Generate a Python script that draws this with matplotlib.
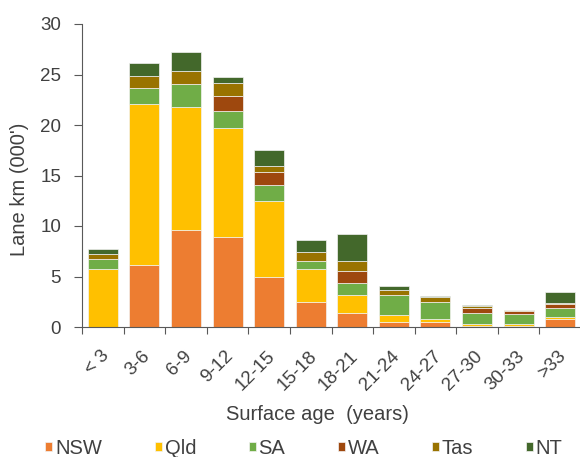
import numpy as np
import matplotlib
matplotlib.use('Agg')
import matplotlib.pyplot as plt

# Alter der Deckschicht (Jahre) und Fahrstreifen-km (in Tausend) je Bundesstaat
categories = ['< 3', '3-6', '6-9', '9-12', '12-15', '15-18', '18-21',
              '21-24', '24-27', '27-30', '30-33', '>33']
nsw = [0.0, 6.1, 9.65, 8.9, 5.0, 2.5, 1.35, 0.52, 0.5, 0.13, 0.13, 0.8]
qld = [5.7, 16.0, 12.15, 10.8, 7.45, 3.2, 1.8, 0.62, 0.28, 0.17, 0.17, 0.15]
sa = [1.0, 1.6, 2.3, 1.65, 1.6, 0.85, 1.25, 2.0, 1.74, 1.06, 0.96, 0.95]
wa = [0.0, 0.0, 0.0, 1.5, 1.3, 0.0, 1.15, 0.0, 0.0, 0.56, 0.3, 0.33]
tas = [0.5, 1.15, 1.2, 1.3, 0.6, 0.9, 1.0, 0.55, 0.43, 0.13, 0.1, 0.1]
nt = [0.5, 1.25, 1.95, 0.6, 1.55, 1.15, 2.7, 0.38, 0.1, 0.1, 0.03, 1.1]

series = [('NSW', nsw, '#ED7D31'),
          ('Qld', qld, '#FFC000'),
          ('SA', sa, '#70AD47'),
          ('WA', wa, '#9E480E'),
          ('Tas', tas, '#997300'),
          ('NT', nt, '#43682B')]

plt.rcParams['font.family'] = 'Liberation Sans'
plt.rcParams['font.size'] = 14.5
text_col = '#404040'
axis_col = '#595959'

fig = plt.figure(figsize=(5.8, 4.57), dpi=100)
ax = fig.add_axes([82 / 580, 1 - 327 / 457, 499 / 580, 303 / 457])

x = np.arange(len(categories))
bottom = np.zeros(len(categories))
for name, vals, col in series:
    ax.bar(x, vals, width=0.72, bottom=bottom, color=col, label=name,
           edgecolor='#f2f2f2', linewidth=0.5)
    bottom += np.array(vals)

ax.set_xlim(-0.5, len(categories) - 0.5)
ax.set_ylim(0, 30)
ax.set_yticks(np.arange(0, 31, 5))

# Striche zwischen den Kategorien, Beschriftung in der Mitte
ax.set_xticks(np.arange(len(categories) + 1) - 0.5)
ax.set_xticklabels([])
ax.set_xticks(x + 0.08, minor=True)
ax.set_xticklabels(categories, minor=True, rotation=45, ha='right',
                   va='center', rotation_mode='anchor', color=text_col,
                   fontsize=13.5)
ax.tick_params(axis='x', which='major', length=5, color=axis_col)
ax.tick_params(axis='x', which='minor', length=0, pad=19)
ax.tick_params(axis='y', length=6, color=axis_col, labelcolor=text_col,
               labelsize=13.5, pad=9)

for s in ['top', 'right']:
    ax.spines[s].set_visible(False)
for s in ['left', 'bottom']:
    ax.spines[s].set_color(axis_col)

ax.set_ylabel("Lane km (000')", color=text_col)
ax.yaxis.set_label_coords((29 - 82) / 499, 0.455)
fig.text(317 / 580, 1 - 415 / 457, 'Surface age  (years)', ha='center',
         va='center', color=text_col)

fig.legend(loc='center', bbox_to_anchor=(304 / 580, 1 - 448 / 457), ncol=6,
           frameon=False, handlelength=0.35, handleheight=0.35,
           handletextpad=0.15, columnspacing=2.6, labelcolor=text_col,
           borderpad=0, borderaxespad=0)

fig.savefig('out.png', dpi=100)
